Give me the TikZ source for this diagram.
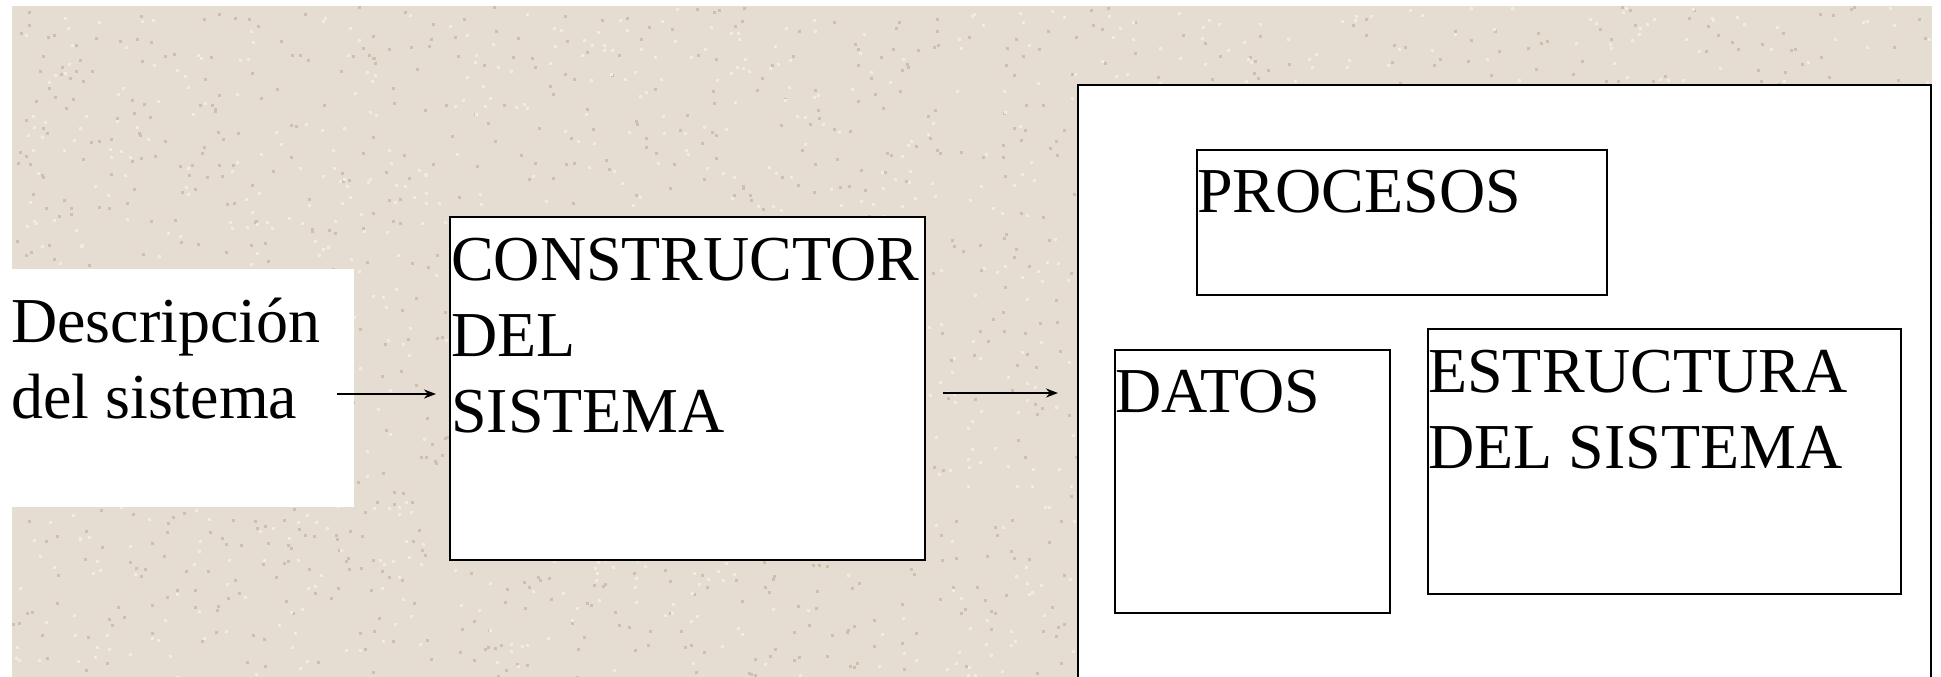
\documentclass[tikz,border=0pt]{standalone}
\usepackage{fontspec}
\setmainfont{Liberation Serif}
\usetikzlibrary{arrows.meta,calc}
\definecolor{paper}{RGB}{229,221,209}
\definecolor{paperdark}{RGB}{205,192,176}
\definecolor{paperlight}{RGB}{240,235,227}
% stacked lines, baseline of the whole block = baseline of its first line
\newcommand\textlines[1]{\vtop{\baselineskip=76pt\lineskiplimit=-200pt\halign{##\hfil\cr#1\crcr}}}
\tikzset{
  box/.style={draw=black, line width=2.2pt, fill=white, inner sep=0pt, anchor=north west},
  lbl/.style={inner sep=0pt, anchor=base west, font=\fontsize{64}{76}\selectfont},
  flow/.style={line width=2pt, -{Stealth[length=12pt,width=9pt]}},
}
\begin{document}
\begin{tikzpicture}[x=1pt,y=-1pt]
\useasboundingbox (0,0) rectangle (1941,677);
\fill[white] (0,0) rectangle (1941,677);
\fill[paper] (12,6) rectangle (1932,677);

% grain of the paper
\pgfmathsetseed{4711}
\begin{scope}
\clip (12,6) rectangle (1932,677);
\foreach \i in {1,...,1800}{
  \pgfmathsetmacro\gx{12+1920*rnd}
  \pgfmathsetmacro\gy{6+671*rnd}
  \fill[paperdark] (\gx,\gy) rectangle ++(3,3);
}
\foreach \i in {1,...,1500}{
  \pgfmathsetmacro\gx{12+1920*rnd}
  \pgfmathsetmacro\gy{6+671*rnd}
  \fill[paperlight] (\gx,\gy) rectangle ++(3,3);
}
\end{scope}

% input description on a white panel
\fill[white] (12,269) rectangle (354,507);
\node[lbl] (desc) at (11,342) {\textlines{Descripción\cr del sistema}};

% system builder
\node[box, minimum width=475pt, minimum height=343pt] (cons) at (449,216) {};
\node[lbl] (consT) at ($(cons.north west)+(2,64)$) {\textlines{CONSTRUCTOR\cr DEL\cr SISTEMA}};

% resulting system: open panel running off the bottom
\fill[white] (1078,85) rectangle (1931,677);
\draw[line width=2.2pt] (1078,677) -- (1078,85) -- (1931,85) -- (1931,677);
\coordinate (sysL) at (1078,393);

\node[box, minimum width=410pt, minimum height=145pt] (proc) at (1196,149) {};
\node[lbl] (procT) at ($(proc.north west)+(1,63)$) {PROCESOS};

\node[box, minimum width=275pt, minimum height=263pt] (datos) at (1114,349) {};
\node[lbl] (datosT) at ($(datos.north west)+(1,63)$) {DATOS};

\node[box, minimum width=473pt, minimum height=265pt] (estr) at (1427,328) {};
\node[lbl] (estrT) at ($(estr.north west)+(1,64)$) {\textlines{ESTRUCTURA\cr DEL SISTEMA}};

% connectors
\coordinate (a1) at (337,394);
\coordinate (a2) at (943,393);
\draw[flow, shorten >=13pt] (a1) -- (a1 -| cons.west);
\draw[flow, shorten >=20pt] (a2) -- (sysL);
\end{tikzpicture}
\end{document}
